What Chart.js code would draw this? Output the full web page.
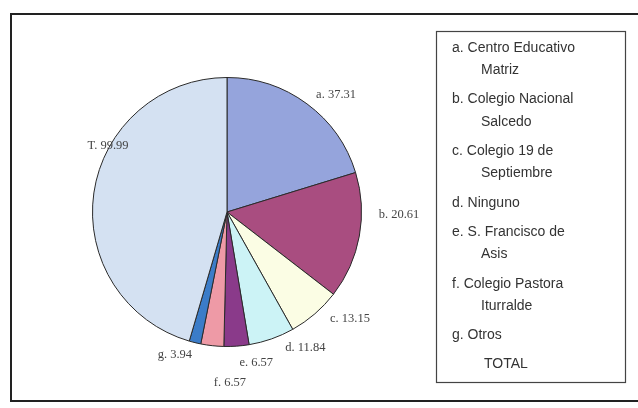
<!DOCTYPE html>
<html>
<head>
<meta charset="utf-8">
<script src="https://cdn.jsdelivr.net/npm/chart.js@4"></script>
<style>
  html, body { margin: 0; padding: 0; background: #fff; }
  #wrap { width: 638px; height: 408px; position: relative; }
</style>
</head>
<body>
<div id="wrap"><canvas id="pastel"></canvas></div>
<script>
// datos del grafico
const letras = ["a", "b", "c", "d", "e", "f", "g", "T"];
// valores impresos en las etiquetas
const valores = [37.31, 20.61, 13.15, 11.84, 6.57, 6.57, 3.94, 99.99];
// tamano de cada porcion tal como se ve dibujada en el original
const porciones = [40.5, 30.4, 12.8, 11.0, 6.0, 5.5, 2.8, 90.9];
const colores = ["#95a4dc", "#a94d80", "#fbfde4", "#ccf3f6", "#8a3a8a", "#ee9aa6", "#3b7cc8", "#d4e1f2"];
const leyenda = [
  ["a. Centro Educativo", "Matriz"],
  ["b. Colegio Nacional", "Salcedo"],
  ["c. Colegio 19 de", "Septiembre"],
  ["d. Ninguno"],
  ["e. S. Francisco de", "Asis"],
  ["f. Colegio Pastora", "Iturralde"],
  ["g. Otros"],
  ["TOTAL"]
];

// ajuste de etiquetas (grados extra, distancia al centro)
const giroEtiq = [6.5, -9.3, -8.2, -10.6, -6.9, -7.3, 6.3, 20.8];
const distEtiq = [160, 172, 163, 157, 154, 171, 152, 136];

const marcoYLeyenda = {
  id: "marcoYLeyenda",
  beforeDraw(chart) {
    const ctx = chart.ctx;
    ctx.save();
    ctx.strokeStyle = "#222";
    ctx.lineWidth = 2;
    ctx.strokeRect(11, 14, 650, 387);
    ctx.restore();
  },
  afterDraw(chart) {
    const ctx = chart.ctx;
    ctx.save();
    // caja de leyenda
    ctx.strokeStyle = "#444";
    ctx.lineWidth = 1.2;
    ctx.strokeRect(436.5, 31.5, 189, 351);
    ctx.fillStyle = "#333";
    ctx.font = "14px 'Liberation Sans', Arial, sans-serif";
    ctx.textBaseline = "middle";
    let y = 48;
    leyenda.forEach((item, i) => {
      item.forEach((linea, j) => {
        const x = (i === leyenda.length - 1) ? 484 : (j === 0 ? 452 : 481);
        ctx.fillText(linea, x, y);
        y += 22.3;
      });
      y += 7;
    });

    // etiquetas de datos
    const meta = chart.getDatasetMeta(0);
    ctx.font = "12.5px 'Liberation Serif', 'Times New Roman', serif";
    ctx.fillStyle = "#444";
    ctx.textAlign = "center";
    meta.data.forEach((arc, i) => {
      const p = arc.getProps(["x", "y", "startAngle", "endAngle"], true);
      const a = (p.startAngle + p.endAngle) / 2 + giroEtiq[i] * Math.PI / 180;
      const tx = p.x + Math.cos(a) * distEtiq[i];
      const ty = p.y + Math.sin(a) * distEtiq[i];
      ctx.fillText(letras[i] + ". " + valores[i].toFixed(2), tx, ty);
    });
    ctx.restore();
  }
};

new Chart(document.getElementById("pastel"), {
  type: "pie",
  data: {
    labels: letras,
    datasets: [{
      data: porciones,
      backgroundColor: colores,
      borderColor: "#2a2a2a",
      borderWidth: 1
    }]
  },
  options: {
    responsive: true,
    maintainAspectRatio: false,
    animation: false,
    layout: { padding: { left: 92, right: 276, top: 77, bottom: 61 } },
    plugins: {
      legend: { display: false },
      tooltip: { enabled: false }
    }
  },
  plugins: [marcoYLeyenda]
});
</script>
</body>
</html>
